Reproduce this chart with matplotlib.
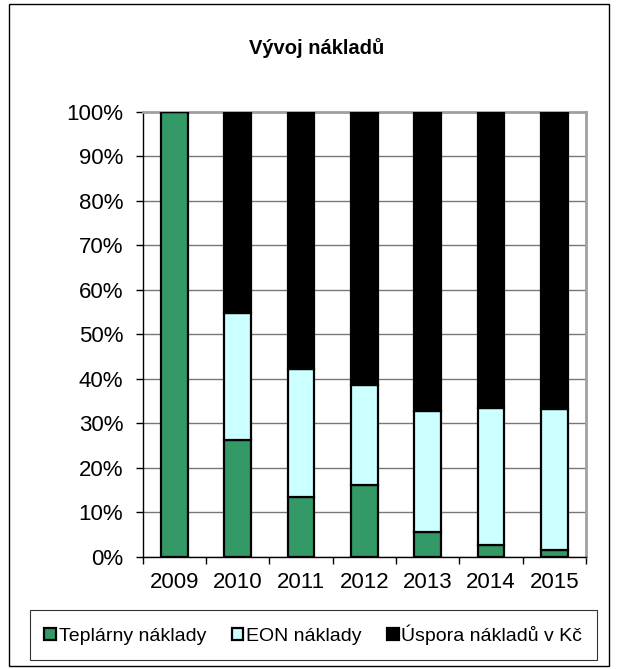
import numpy as np
import matplotlib.pyplot as plt
from matplotlib.patches import Rectangle
from matplotlib.ticker import PercentFormatter

years = ['2009', '2010', '2011', '2012', '2013', '2014', '2015']
teplarny = [100.0, 26.1, 13.3, 16.0, 5.6, 2.7, 1.4]
eon = [0.0, 28.6, 28.8, 22.5, 27.1, 30.6, 31.7]
uspora = [0.0, 45.3, 57.9, 61.5, 67.3, 66.7, 66.9]
labels = ['Teplárny náklady', 'EON náklady', 'Úspora nákladů v Kč']
colors = ['#339966', '#CCFFFF', '#000000']

plt.rcParams['font.family'] = ['Liberation Sans', 'DejaVu Sans']

fig = plt.figure(figsize=(6.18, 6.69), dpi=100)
ax = fig.add_axes([0.231, 0.168, 0.717, 0.665])

x = np.arange(len(years))
bottom = np.zeros(len(years))
for vals, lab, col in zip([teplarny, eon, uspora], labels, colors):
    ax.bar(x, vals, 0.42, bottom=bottom, color=col, edgecolor='black',
           linewidth=1.6, label=lab, zorder=3)
    bottom += np.array(vals)

ax.set_xlim(-0.5, len(years) - 0.5)
ax.set_ylim(0, 100)
ax.set_yticks(np.arange(0, 101, 10))
ax.yaxis.set_major_formatter(PercentFormatter(decimals=0))
ax.set_xticks(x)
ax.set_xticklabels(years)
ax.set_xticks(np.arange(-0.5, len(years)), minor=True)
ax.tick_params(axis='x', which='major', length=0, labelsize=16, pad=11)
ax.tick_params(axis='x', which='minor', length=5, width=1, color='black')
ax.tick_params(axis='y', length=5, width=1, labelsize=16, pad=9)
ax.grid(axis='y', color='#777777', linewidth=1, zorder=0)

for s in ['left', 'bottom']:
    ax.spines[s].set_color('black')
    ax.spines[s].set_linewidth(1)
for s in ['top', 'right']:
    ax.spines[s].set_color('#a0a0a0')
    ax.spines[s].set_linewidth(2)

fig.text(0.513, 0.928, 'Vývoj nákladů', ha='center', va='center',
         fontsize=14.5, fontweight='bold')

leg = fig.legend(loc='center', bbox_to_anchor=(0.507, 0.051), ncol=3,
                 fontsize=14, frameon=True, fancybox=False, edgecolor='black',
                 handlelength=0.6, handleheight=0.6, handletextpad=0.15,
                 columnspacing=1.3, borderpad=0.75)
leg.get_frame().set_linewidth(0.8)

fig.patches.append(Rectangle((0.014, 0.004), 0.972, 0.99, transform=fig.transFigure,
                             fill=False, edgecolor='black', linewidth=1))

fig.savefig('out.png', dpi=100)
